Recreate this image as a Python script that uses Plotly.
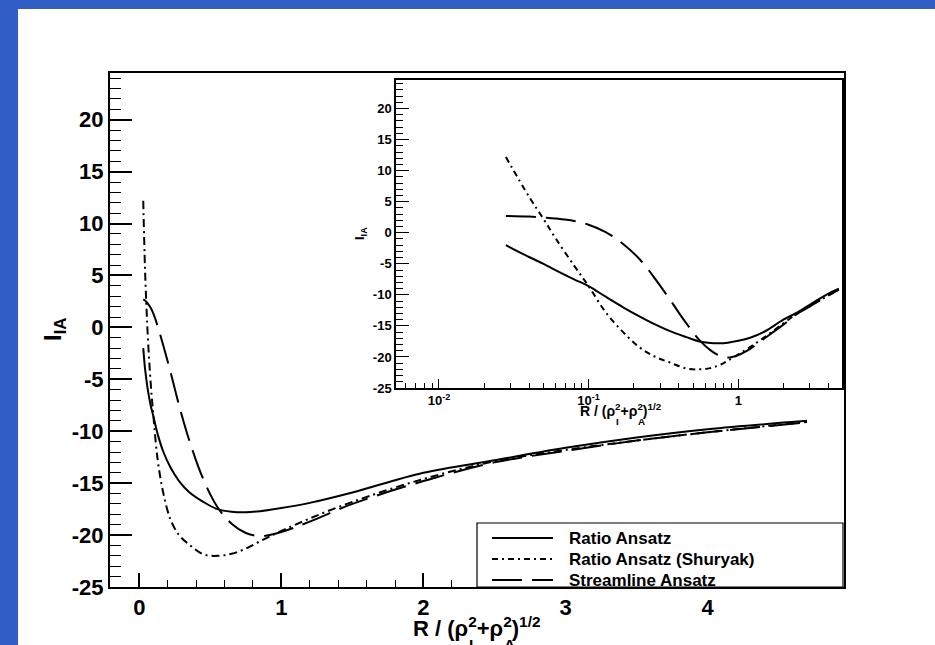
import plotly.graph_objects as go

# ---- data ----
R = [0.028, 0.04, 0.05, 0.06, 0.08, 0.1, 0.13, 0.17, 0.22, 0.28, 0.35, 0.45, 0.55,
     0.65, 0.75, 0.85, 1.0, 1.2, 1.5, 2.0, 2.5, 3.0, 3.5, 4.0, 4.7]
ratio = [-2.0, -3.9, -5.0, -6.0, -7.5, -8.6, -10.3, -12.0, -13.5, -14.8, -15.85, -16.8, -17.5,
         -17.75, -17.8, -17.7, -17.4, -16.9, -15.9, -14.0, -12.8, -11.6, -10.6, -9.8, -9.0]
shuryak = [12.2, 5.8, 2.2, -0.85, -5.3, -8.6, -12.8, -16.0, -18.5, -20.0, -20.9, -21.85, -22.0,
           -21.8, -21.3, -20.6, -19.6, -18.4, -16.8, -14.6, -12.9, -11.8, -10.9, -10.1, -9.1]
streamline = [2.7, 2.6, 2.45, 2.3, 1.9, 1.3, 0.1, -1.8, -4.3, -7.5, -10.8, -14.6, -17.3,
              -18.9, -19.8, -20.1, -19.7, -18.7, -17.0, -14.8, -13.0, -11.9, -10.9, -10.1, -9.15]
names = ["Ratio Ansatz", "Ratio Ansatz (Shuryak)", "Streamline Ansatz"]
main_xticks = [0, 1, 2, 3, 4]
main_yticks = [-25, -20, -15, -10, -5, 0, 5, 10, 15, 20]
main_yticktext = ["-25", "-20", "-15", "-10", "-5", "0", "5", "10", "15", "20"]
inset_xticks = [0.01, 0.1, 1]
inset_xticktext = ["10<sup>-2</sup>", "10<sup>-1</sup>", "1"]

W, H = 935, 645
def fx(px):
    return px / W
def fy(py):
    return 1 - py / H

FONT = "Liberation Sans, Arial, sans-serif"
BLUE = "#305DC6"
main_dashes = ["solid", "8px,4px,2px,4px", "30px,10px"]
inset_dashes = ["solid", "6px,4px,2px,4px", "30px,10px"]
series = [ratio, shuryak, streamline]

fig = go.Figure()
for s, d, n in zip(series, main_dashes, names):
    fig.add_trace(go.Scatter(x=R, y=s, mode="lines", name=n, showlegend=False,
                             line=dict(color="black", width=2, dash=d, shape="spline"),
                             xaxis="x", yaxis="y"))
for s, d, n in zip(series, inset_dashes, names):
    fig.add_trace(go.Scatter(x=R, y=s, mode="lines", name=n, showlegend=False,
                             line=dict(color="black", width=2, dash=d, shape="spline"),
                             xaxis="x2", yaxis="y2"))

main_font = dict(family=FONT, size=22, color="black", weight="bold")
inset_font = dict(family=FONT, size=13, color="black", weight="bold")

fig.update_layout(
    width=W, height=H, margin=dict(l=0, r=0, t=0, b=0, autoexpand=False),
    paper_bgcolor="white", plot_bgcolor="white", showlegend=False,
    xaxis=dict(domain=[fx(110), fx(844)], range=[-0.206, 4.96], anchor="y", automargin=False,
               showgrid=False, zeroline=False, showline=True, linecolor="black", linewidth=2,
               mirror=True, ticks="inside", ticklen=14, tickwidth=1.5, tickcolor="black",
               tickmode="array", tickvals=main_xticks, tickfont=main_font,
               minor=dict(dtick=0.2, tick0=0, ticks="inside", ticklen=7, tickwidth=1.2,
                          tickcolor="black", showgrid=False)),
    yaxis=dict(domain=[fy(587), fy(73)], range=[-25, 24.5], anchor="x", automargin=False,
               showgrid=False, zeroline=False, showline=True, linecolor="black", linewidth=2,
               mirror=True, ticks="inside", ticklen=22, tickwidth=1.5, tickcolor="black",
               tickmode="array", tickvals=main_yticks, ticktext=main_yticktext,
               tickfont=main_font,
               minor=dict(dtick=1, tick0=0, ticks="inside", ticklen=11, tickwidth=1.2,
                          tickcolor="black", showgrid=False)),
    xaxis2=dict(domain=[fx(396), fx(842)], type="log", range=[-2.287, 0.693], anchor="y2",
                automargin=False,
                showgrid=False, zeroline=False, showline=True, linecolor="black", linewidth=1.5,
                mirror=True, ticks="inside", ticklen=9, tickwidth=1.2, tickcolor="black",
                tickmode="array", tickvals=inset_xticks, ticktext=inset_xticktext,
                tickfont=inset_font,
                minor=dict(dtick="D1", ticks="inside", ticklen=5, tickwidth=1,
                           tickcolor="black", showgrid=False)),
    yaxis2=dict(domain=[fy(388), fy(80)], range=[-25, 24.6], anchor="x2", automargin=False,
                showgrid=False, zeroline=False, showline=True, linecolor="black", linewidth=1.5,
                mirror=True, ticks="inside", ticklen=13, tickwidth=1.2, tickcolor="black",
                tickmode="array", tickvals=main_yticks, ticktext=main_yticktext,
                tickfont=inset_font,
                minor=dict(dtick=1, tick0=0, ticks="inside", ticklen=7, tickwidth=1,
                           tickcolor="black", showgrid=False)),
)

shapes = [
    dict(type="rect", xref="paper", yref="paper", x0=0, x1=1, y0=fy(9), y1=1,
         fillcolor=BLUE, line=dict(width=0), layer="above"),
    dict(type="rect", xref="paper", yref="paper", x0=0, x1=fx(18), y0=0, y1=1,
         fillcolor=BLUE, line=dict(width=0), layer="above"),
    dict(type="rect", xref="paper", yref="paper", x0=fx(477), x1=fx(843), y0=fy(587), y1=fy(523),
         fillcolor="white", line=dict(color="black", width=1.2), layer="above"),
]
rows = [538, 559, 580]
for yy, d in zip(rows, inset_dashes):
    shapes.append(dict(type="line", xref="paper", yref="paper", x0=fx(492), x1=fx(553),
                       y0=fy(yy), y1=fy(yy), line=dict(color="black", width=2, dash=d),
                       layer="above"))
fig.update_layout(shapes=shapes)

ann = []
for yy, n in zip(rows, names):
    ann.append(dict(text=n, xref="paper", yref="paper", x=fx(567), y=fy(yy), xanchor="left",
                    yanchor="middle", showarrow=False,
                    font=dict(family=FONT, size=17, color="black", weight="bold")))


def stacked_title(cx, base_bottom, sub_top, size):
    """R / (rho_I^2 + rho_A^2)^(1/2) with subscripts stacked under superscripts."""
    f = dict(family=FONT, size=size, color="black", weight="bold")
    fs = dict(family=FONT, size=size * 0.7, color="black", weight="bold")
    total = 5.757 * size
    x0 = cx - total / 2
    out = [dict(text="R / (ρ<sup>2</sup>+ρ<sup>2</sup>)<sup>1/2</sup>", xref="paper",
                yref="paper", x=fx(cx), y=fy(base_bottom), xanchor="center",
                yanchor="bottom", showarrow=False, font=f)]
    for off, t in ((2.489, "I"), (4.062, "A")):
        out.append(dict(text=t, xref="paper", yref="paper", x=fx(x0 + off * size),
                        y=fy(sub_top), xanchor="left", yanchor="top", showarrow=False,
                        font=fs, borderpad=0))
    return out


ann += stacked_title(477, 643, 635, 22)
ann += stacked_title(620.5, 421, 415, 14)
ann.append(dict(text="I<sub>IA</sub>", xref="paper", yref="paper", x=fx(54), y=fy(330),
                xanchor="center", yanchor="middle", showarrow=False, textangle=-90,
                font=dict(family=FONT, size=24, color="black", weight="bold")))
ann.append(dict(text="I<sub>IA</sub>", xref="paper", yref="paper", x=fx(360), y=fy(234),
                xanchor="center", yanchor="middle", showarrow=False, textangle=-90,
                font=dict(family=FONT, size=13, color="black", weight="bold")))
fig.update_layout(annotations=ann)

fig.write_html("out.html")
